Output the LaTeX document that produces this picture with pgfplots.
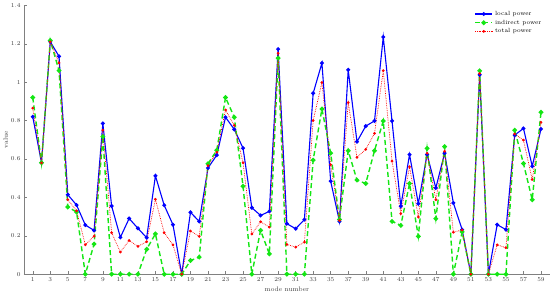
\documentclass[border=0pt]{standalone}
\usepackage{pgfplots}
\pgfplotsset{compat=1.18}

\pgfplotstableread{
mode local indirect total
1 0.820 0.920 0.864
2 0.580 0.580 0.580
3 1.210 1.217 1.210
4 1.134 1.060 1.100
5 0.414 0.350 0.388
6 0.360 0.324 0.330
7 0.256 0.000 0.153
8 0.228 0.157 0.198
9 0.785 0.716 0.750
10 0.355 0.000 0.216
11 0.192 0.000 0.115
12 0.290 0.000 0.176
13 0.239 0.000 0.145
14 0.190 0.130 0.169
15 0.512 0.210 0.390
16 0.359 0.000 0.216
17 0.258 0.000 0.153
18 0.000 0.000 0.000
19 0.322 0.071 0.225
20 0.275 0.089 0.197
21 0.553 0.575 0.565
22 0.620 0.645 0.635
23 0.817 0.920 0.855
24 0.754 0.817 0.775
25 0.656 0.458 0.580
26 0.346 0.000 0.209
27 0.306 0.228 0.273
28 0.327 0.106 0.245
29 1.172 1.125 1.150
30 0.263 0.000 0.155
31 0.237 0.000 0.141
32 0.284 0.000 0.167
33 0.942 0.594 0.800
34 1.099 0.860 0.998
35 0.484 0.630 0.570
36 0.275 0.285 0.280
37 1.064 0.643 0.893
38 0.690 0.490 0.608
39 0.771 0.472 0.650
40 0.798 0.643 0.733
41 1.235 0.798 1.060
42 0.798 0.275 0.589
43 0.354 0.254 0.315
44 0.623 0.472 0.559
45 0.367 0.197 0.298
46 0.623 0.655 0.630
47 0.449 0.289 0.388
48 0.630 0.664 0.640
49 0.371 0.000 0.219
50 0.232 0.220 0.230
51 0.000 0.000 0.000
52 1.038 1.059 1.045
53 0.000 0.000 0.000
54 0.258 0.000 0.153
55 0.232 0.000 0.138
56 0.724 0.750 0.730
57 0.759 0.576 0.698
58 0.562 0.388 0.493
59 0.756 0.843 0.790
}\modedata

\definecolor{axgray}{RGB}{128,128,128}
\definecolor{ticktxt}{RGB}{60,60,60}
\definecolor{lime}{RGB}{20,230,20}

\begin{document}
\begin{tikzpicture}
\begin{axis}[
    scale only axis,
    width=522bp, height=267bp,
    xmin=0, xmax=60,
    ymin=0, ymax=1.4,
    xtick={1,3,...,59},
    ytick={0,0.2,...,1.4},
    axis x line*=bottom,
    axis y line*=left,
    axis line style={axgray, line width=0.5pt},
    tick style={axgray, line width=0.4pt},
    tick align=inside,
    major tick length=3bp,
    tick label style={font=\fontsize{6.5}{7}\selectfont, text=ticktxt},
    xlabel={mode number}, ylabel={value},
    label style={font=\fontsize{6.5}{7}\selectfont, text=ticktxt},
    xlabel style={yshift=2bp},
    ylabel style={yshift=-4bp},
    legend style={draw=none, fill=white, at={(0.99,0.99)}, anchor=north east,
        font=\fontsize{6}{7}\selectfont, row sep=-1pt},
    legend cell align=left,
    every axis legend/.append style={inner sep=1pt},
]
\addplot[blue, line width=1.1pt, mark=*, mark size=1.4pt] table[x=mode, y=local] {\modedata};
\addlegendentry{local power}
\addplot[lime, line width=1.4pt, dash pattern=on 5pt off 3pt, mark=*, mark size=1.6pt, mark options={solid}] table[x=mode, y=indirect] {\modedata};
\addlegendentry{indirect power}
\addplot[red, line width=0.7pt, densely dotted, mark=*, mark size=1.0pt, mark options={solid}] table[x=mode, y=total] {\modedata};
\addlegendentry{total power}
\end{axis}
\end{tikzpicture}
\end{document}
